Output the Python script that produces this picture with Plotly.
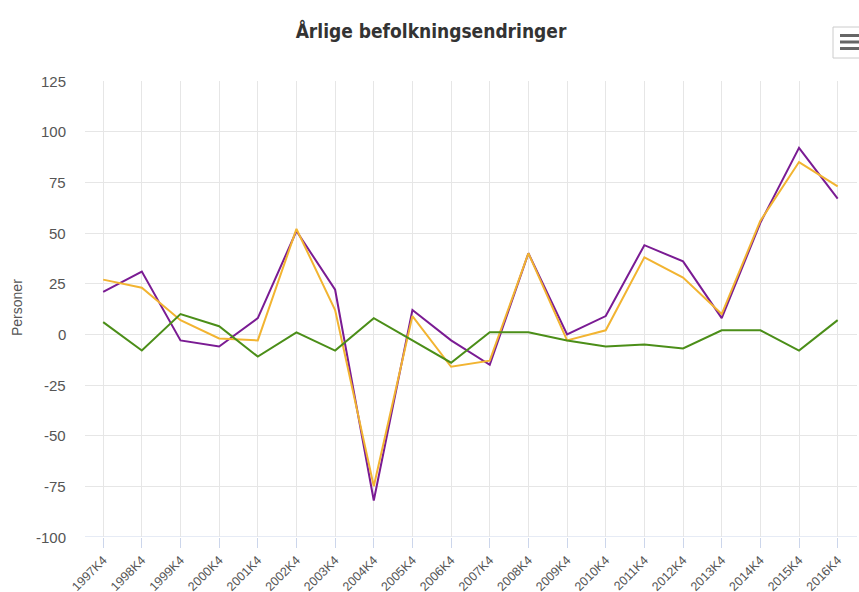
import plotly.graph_objects as go

categories = ["1997K4", "1998K4", "1999K4", "2000K4", "2001K4", "2002K4", "2003K4",
              "2004K4", "2005K4", "2006K4", "2007K4", "2008K4", "2009K4", "2010K4",
              "2011K4", "2012K4", "2013K4", "2014K4", "2015K4", "2016K4"]

befolkningsvekst = [21, 31, -3, -6, 8, 51, 22, -82, 12, -3, -15, 40, 0, 9, 44, 36, 8, 55, 92, 67]
nettoinnflytting = [27, 23, 7, -2, -3, 52, 12, -75, 9, -16, -13, 40, -3, 2, 38, 28, 10, 56, 85, 73]
fodselsoverskudd = [6, -8, 10, 4, -11, 1, -8, 8, -3, -14, 1, 1, -3, -6, -5, -7, 2, 2, -8, 7]

y_ticks = [125, 100, 75, 50, 25, 0, -25, -50, -75, -100]

series = [
    ("Befolkningsvekst", befolkningsvekst, "#7a1b93"),
    ("Nettoinnflytting", nettoinnflytting, "#f2b431"),
    ("Fødselsoverskudd", fodselsoverskudd, "#4b8e18"),
]

fig = go.Figure()
x_idx = list(range(len(categories)))
for name, vals, col in series:
    fig.add_trace(go.Scatter(x=x_idx, y=vals, name=name, mode="lines",
                             line=dict(color=col, width=2)))

W, H = 859, 592
L, R, T, B = 85, 857, 81, 537

def px(x):
    return (x - L) / (R - L)

def py(y):
    return (B - y) / (B - T)

shapes = [
    dict(type="rect", xref="paper", yref="paper", x0=px(833), x1=px(872), y0=py(58), y1=py(27),
         line=dict(color="#cccccc", width=1), fillcolor="#ffffff", layer="above"),
]
for yy in [35.5, 42, 48.5]:
    shapes.append(dict(type="line", xref="paper", yref="paper", x0=px(840), x1=px(866),
                       y0=py(yy), y1=py(yy), line=dict(color="#666666", width=3)))

label_font = dict(family="Liberation Sans, Arial, sans-serif", size=15, color="#555555")
annotations = [dict(text="Personer", xref="paper", yref="paper", x=px(17), y=py(308),
                    textangle=-90, showarrow=False, xanchor="center", yanchor="middle",
                    font=dict(family="Liberation Sans, Arial, sans-serif", size=14, color="#555555"))]
for v in y_ticks:
    annotations.append(dict(text=str(v).replace("-", "\u2212") if False else str(v),
                            xref="paper", yref="y", x=px(68), y=v,
                            xanchor="right", yanchor="middle", showarrow=False,
                            font=label_font))

fig.update_layout(
    width=W, height=H,
    margin=dict(l=L, r=W - R, t=T, b=H - B),
    paper_bgcolor="white", plot_bgcolor="white",
    showlegend=False,
    title=dict(text="<b>Årlige befolkningsendringer</b>", x=px(431), xref="paper", xanchor="center",
               y=1 - 31 / H, yanchor="middle",
               font=dict(family="Liberation Sans Narrow, DejaVu Sans Condensed, Arial Narrow, sans-serif",
                         size=19, color="#333333")),
    xaxis=dict(range=[-0.47, 19.5], tickmode="array", tickvals=x_idx, ticktext=categories,
               tickangle=-45, showgrid=True, gridcolor="#e6e6e6", gridwidth=1,
               showline=False, zeroline=False, automargin=False,
               ticks="outside", ticklen=10, tickcolor="#ccd6eb",
               tickfont=dict(family="Liberation Sans, Arial, sans-serif", size=12.5, color="#555555")),
    yaxis=dict(range=[-100, 125], tickmode="array", tickvals=y_ticks, showticklabels=False,
               showgrid=True, gridcolor="#e6e6e6", gridwidth=1, zeroline=False,
               showline=False, ticks="", automargin=False),
    shapes=shapes,
    annotations=annotations,
)

# x-axis baseline (bluish) at -100
fig.add_shape(type="line", xref="paper", yref="y", x0=0, x1=1, y0=-100, y1=-100,
              line=dict(color="#ccd6eb", width=1), layer="below")

fig.write_html("out.html", config={"displayModeBar": False},
               post_script="document.body.style.margin='0';document.body.style.overflow='hidden';")
